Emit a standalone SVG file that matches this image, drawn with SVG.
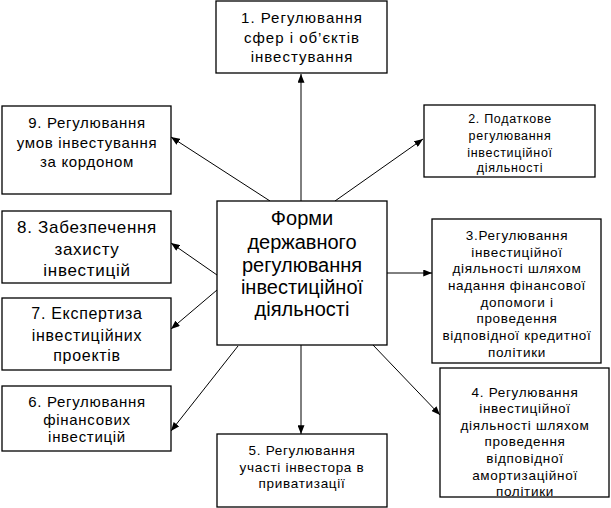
<svg xmlns="http://www.w3.org/2000/svg" width="611" height="508" viewBox="0 0 611 508">
<style>
.b{fill:#fff;stroke:#000;stroke-width:1.3}
text{font-family:"Liberation Sans",Arial,sans-serif;fill:#000;text-anchor:middle}
.s{letter-spacing:0.7px}
.c{stroke:#000;stroke-width:1;fill:none}
</style>
<defs>
<marker id="a" viewBox="0 0 10 8" refX="10" refY="4" markerWidth="9" markerHeight="7" markerUnits="userSpaceOnUse" orient="auto">
<path d="M0,0 L10,4 L0,8 z" fill="#000"/>
</marker>
</defs>
<rect width="611" height="508" fill="#fff"/>
<g id="connectors">
<line class="c" x1="301" y1="201" x2="301" y2="74" marker-end="url(#a)"/>
<line class="c" x1="335" y1="201" x2="423" y2="139" marker-end="url(#a)"/>
<line class="c" x1="387" y1="273" x2="432" y2="273" marker-end="url(#a)"/>
<line class="c" x1="373" y1="345" x2="440" y2="415" marker-end="url(#a)"/>
<line class="c" x1="301" y1="345" x2="301" y2="434" marker-end="url(#a)"/>
<line class="c" x1="238" y1="346" x2="171" y2="431" marker-end="url(#a)"/>
<line class="c" x1="217" y1="290" x2="171" y2="329" marker-end="url(#a)"/>
<line class="c" x1="217" y1="275" x2="171" y2="243" marker-end="url(#a)"/>
<line class="c" x1="270" y1="201" x2="171" y2="137" marker-end="url(#a)"/>
</g>
<g id="center">
<rect class="b" x="217" y="201" width="170" height="144"/>
<text font-size="20"><tspan x="302" y="225">Форми</tspan><tspan x="302" y="249">державного</tspan><tspan x="302" y="272">регулювання</tspan><tspan x="302" y="294">інвестиційної</tspan><tspan x="302" y="316">діяльності</tspan></text>
</g>
<g id="n1">
<rect class="b" x="216" y="1" width="171" height="72"/>
<text class="s" font-size="15" style="letter-spacing:1px"><tspan x="302" y="23">1. Регулювання</tspan><tspan x="302" y="43">сфер і об’єктів</tspan><tspan x="302" y="62">інвестування</tspan></text>
</g>
<g id="n2">
<rect class="b" x="424" y="105" width="171" height="72"/>
<text class="s" font-size="12.5"><tspan x="510" y="123">2. Податкове</tspan><tspan x="510" y="140">регулювання</tspan><tspan x="510" y="157">інвестиційної</tspan><tspan x="510" y="172">діяльності</tspan></text>
</g>
<g id="n3">
<rect class="b" x="432" y="219" width="169" height="144"/>
<text class="s" font-size="13.5"><tspan x="517" y="240">3.Регулювання</tspan><tspan x="517" y="257">інвестиційної</tspan><tspan x="517" y="273">діяльності шляхом</tspan><tspan x="517" y="290">надання фінансової</tspan><tspan x="517" y="307">допомоги і</tspan><tspan x="517" y="323">проведення</tspan><tspan x="517" y="340">відповідної кредитної</tspan><tspan x="517" y="357">політики</tspan></text>
</g>
<g id="n4">
<rect class="b" x="440" y="368" width="169" height="129"/>
<text class="s" font-size="13.5"><tspan x="525" y="397">4. Регулювання</tspan><tspan x="525" y="413">інвестиційної</tspan><tspan x="525" y="430">діяльності шляхом</tspan><tspan x="525" y="446">проведення</tspan><tspan x="525" y="463">відповідної</tspan><tspan x="525" y="480">амортизаційної</tspan><tspan x="525" y="496">політики</tspan></text>
</g>
<g id="n5">
<rect class="b" x="217" y="434" width="170" height="73"/>
<text class="s" font-size="13.5"><tspan x="302" y="455">5. Регулювання</tspan><tspan x="302" y="472">участі інвестора в</tspan><tspan x="302" y="488">приватизації</tspan></text>
</g>
<g id="n6">
<rect class="b" x="2" y="386" width="169" height="65"/>
<text class="s" font-size="15"><tspan x="87" y="407">6. Регулювання</tspan><tspan x="87" y="425">фінансових</tspan><tspan x="87" y="442">інвестицій</tspan></text>
</g>
<g id="n7">
<rect class="b" x="2" y="298" width="169" height="72"/>
<text class="s" font-size="16"><tspan x="87" y="319">7. Експертиза</tspan><tspan x="87" y="341">інвестиційних</tspan><tspan x="87" y="361">проектів</tspan></text>
</g>
<g id="n8">
<rect class="b" x="2" y="211" width="169" height="72"/>
<text class="s" font-size="17"><tspan x="87" y="233">8. Забезпечення</tspan><tspan x="87" y="255">захисту</tspan><tspan x="87" y="276">інвестицій</tspan></text>
</g>
<g id="n9">
<rect class="b" x="2" y="106" width="169" height="88"/>
<text class="s" font-size="15"><tspan x="87" y="128">9. Регулювання</tspan><tspan x="87" y="148">умов інвестування</tspan><tspan x="87" y="167">за кордоном</tspan></text>
</g>
</svg>
